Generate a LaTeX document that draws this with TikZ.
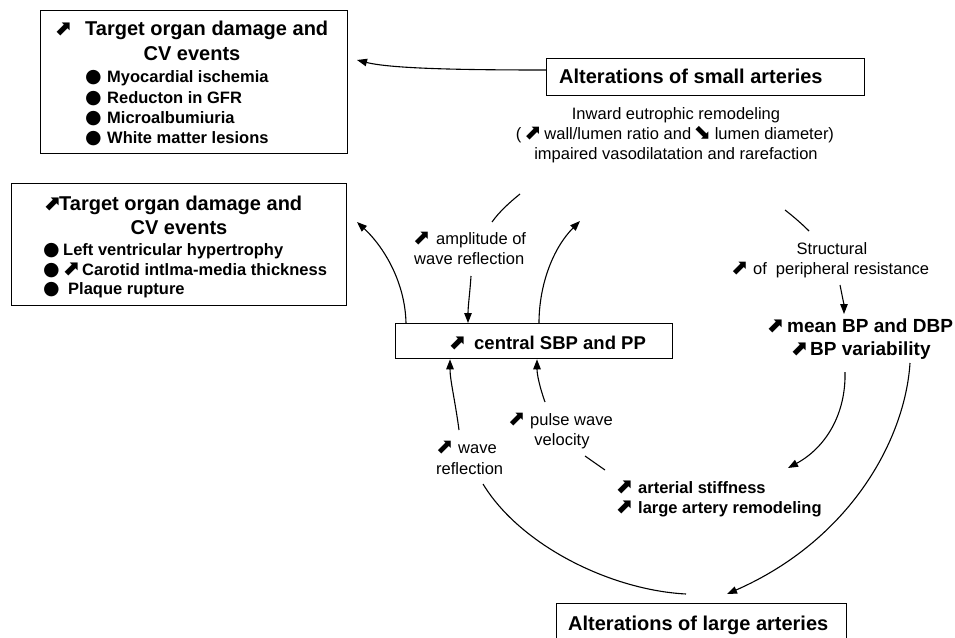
\documentclass[tikz,border=0pt]{standalone}
\usepackage{fontspec}
\usepackage{graphicx}
\setmainfont{Liberation Sans}
\newfontfamily\djv{DejaVu Sans}
\usetikzlibrary{arrows.meta}
\newcommand\NEa{{\djv\fontsize{21}{21}\selectfont ⬈}}
\newcommand\SEa{\rotatebox[origin=c]{-90}{\NEa}}
\newcommand\NEb[1]{\makebox[#1][l]{\NEa}}
\newcommand\bul{{\djv\fontsize{19}{19}\selectfont ●}}
\newcommand\bulb[1]{\makebox[#1][l]{\bul}}
\begin{document}
\begin{tikzpicture}[x=1pt,y=-1pt,
  box/.style={draw, line width=1.3pt, inner sep=0pt, anchor=north west},
  hd/.style={font=\bfseries\fontsize{20}{24}\selectfont, inner sep=0pt},
  bd/.style={font=\bfseries\fontsize{16.5}{20}\selectfont, inner sep=0pt, anchor=base west},
  bdl/.style={font=\bfseries\fontsize{19}{22}\selectfont, inner sep=0pt, anchor=base west},
  bdc/.style={font=\bfseries\fontsize{18.5}{22}\selectfont, inner sep=0pt, anchor=base west},
  lb/.style={font=\fontsize{16.5}{20}\selectfont, inner sep=0pt, anchor=base west},
  lbc/.style={font=\fontsize{16.5}{20}\selectfont, inner sep=0pt, anchor=base},
  conn/.style={line width=1.1pt},
  arr/.style={conn, -{Triangle[length=10pt,width=7.5pt]}}
]
\useasboundingbox (0,0) rectangle (955,637);

% boxes
\node[box, minimum width=307pt, minimum height=143pt] (b1) at (40,10) {};
\node[box, minimum width=335pt, minimum height=122pt] (b2) at (11,183) {};
\node[box, minimum width=318pt, minimum height=37pt] (small) at (546,58) {};
\node[box, minimum width=277pt, minimum height=35pt] (central) at (395,323) {};
\node[box, minimum width=290pt, minimum height=42pt] (large) at (556,603) {};

% box 1 text
\node[hd, anchor=base west] (b1h) at (54,35) {\NEb{31pt}Target organ damage and};
\node[hd, anchor=base] (b1cv) at (192,60) {CV events};
\node[bd] (b1i1) at (85,82) {\bulb{22pt}Myocardial ischemia};
\node[bd] (b1i2) at (85,103) {\bulb{22pt}Reducton in GFR};
\node[bd] (b1i3) at (85,123) {\bulb{22pt}Microalbumiuria};
\node[bd] (b1i4) at (85,143) {\bulb{22pt}White matter lesions};

% box 2 text
\node[hd, anchor=base west] (b2h) at (43,210) {\NEb{16pt}Target organ damage and};
\node[hd, anchor=base] (b2cv) at (179,234) {CV events};
\node[bd] (b2i1) at (43,255) {\bulb{20pt}Left ventricular hypertrophy};
\node[bd] (b2i2) at (43,275) {\bulb{19pt}\NEb{20pt}Carotid intlma-media thickness};
\node[bd] (b2i3) at (43,294) {\bulb{25pt}Plaque rupture};

% small arteries
\node[hd, anchor=base west] (smallt) at (559,83) {Alterations of small arteries};
\node[lbc] (d1) at (676,119) {Inward eutrophic remodeling};
\node[lbc] (d2) at (675,139) {(\hspace{3pt}\NEb{20pt}wall/lumen ratio and \makebox[19pt][l]{\SEa}lumen diameter)};
\node[lbc] (d3) at (676,159) {impaired vasodilatation and rarefaction};

% amplitude
\node[lb] (am1) at (413,244) {\NEb{23pt}amplitude of};
\node[lb] (am2) at (414,264) {wave reflection};

% structural
\node[lbc] (st1) at (832,254) {Structural};
\node[lb] (st2) at (731,274) {\NEb{22pt}of\hspace{9pt}peripheral resistance};

% mean BP
\node[bdl] (mb1) at (766,332) {\NEb{21pt}mean BP and DBP};
\node[bdl] (mb2) at (790,355) {\NEb{20pt}BP variability};

% central
\node[bdc] (centralt) at (448,349) {\NEb{26pt}central SBP and PP};

% pulse wave
\node[lb] (pw1) at (508,425) {\NEb{22pt}pulse wave};
\node[lbc] (pw2) at (562,445) {velocity};

% wave reflection
\node[lb] (wr1) at (436,453) {\NEb{22pt}wave};
\node[lb] (wr2) at (436,474) {reflection};

% arterial stiffness
\node[bd] (as1) at (615,493) {\NEb{23pt}arterial stiffness};
\node[bd] (as2) at (615,513) {\NEb{23pt}large artery remodeling};

% large arteries
\node[hd, anchor=base west] (larget) at (568,630) {Alterations of large arteries};

% connectors
\coordinate (t1) at (357,60);
\draw[arr] (small.west |- 0,70) .. controls (470,70) and (392,69) .. (t1);

\coordinate (t2) at (357,222);
\draw[arr] (central.north -| 406,0) .. controls (405,280) and (382,245) .. (t2);

\coordinate (la1) at (520,194);
\coordinate (la2) at (492,222);
\draw[conn] (la1) .. controls (510,202) and (499,212) .. (la2);

\coordinate (a1) at (471,276);
\draw[arr] (a1) .. controls (470,292) and (468,306) .. (central.north -| 468,0);

\coordinate (t3) at (580,221);
\draw[arr] (central.north -| 539,0) .. controls (539,285) and (553,248) .. (t3);

\coordinate (ra1) at (785,210);
\coordinate (ra2) at (809,231);
\draw[conn] (ra1) .. controls (794,217) and (802,224) .. (ra2);

\coordinate (s1) at (840,285);
\coordinate (t4) at (844,314);
\draw[arr] (s1) .. controls (842,295) and (844,305) .. (t4);

\coordinate (m1) at (845,372);
\coordinate (t5) at (788,468);
\draw[arr] (m1) .. controls (846,415) and (825,448) .. (t5);

\coordinate (v1) at (910,363);
\coordinate (t6) at (727,594);
\draw[arr] (v1) .. controls (905,440) and (850,540) .. (t6);

\coordinate (w1) at (459,430);
\draw[arr] (w1) .. controls (455,400) and (450,380) .. (central.south -| 450,0);

\coordinate (p1) at (545,402);
\draw[arr] (p1) .. controls (540,388) and (537,375) .. (central.south -| 537,0);

\coordinate (q1) at (585,456);
\coordinate (q2) at (605,470);
\draw[conn] (q1) -- (q2);

\coordinate (g1) at (483,484);
\coordinate (g2) at (686,594);
\draw[conn] (g1) .. controls (520,545) and (610,590) .. (g2);
\end{tikzpicture}
\end{document}
